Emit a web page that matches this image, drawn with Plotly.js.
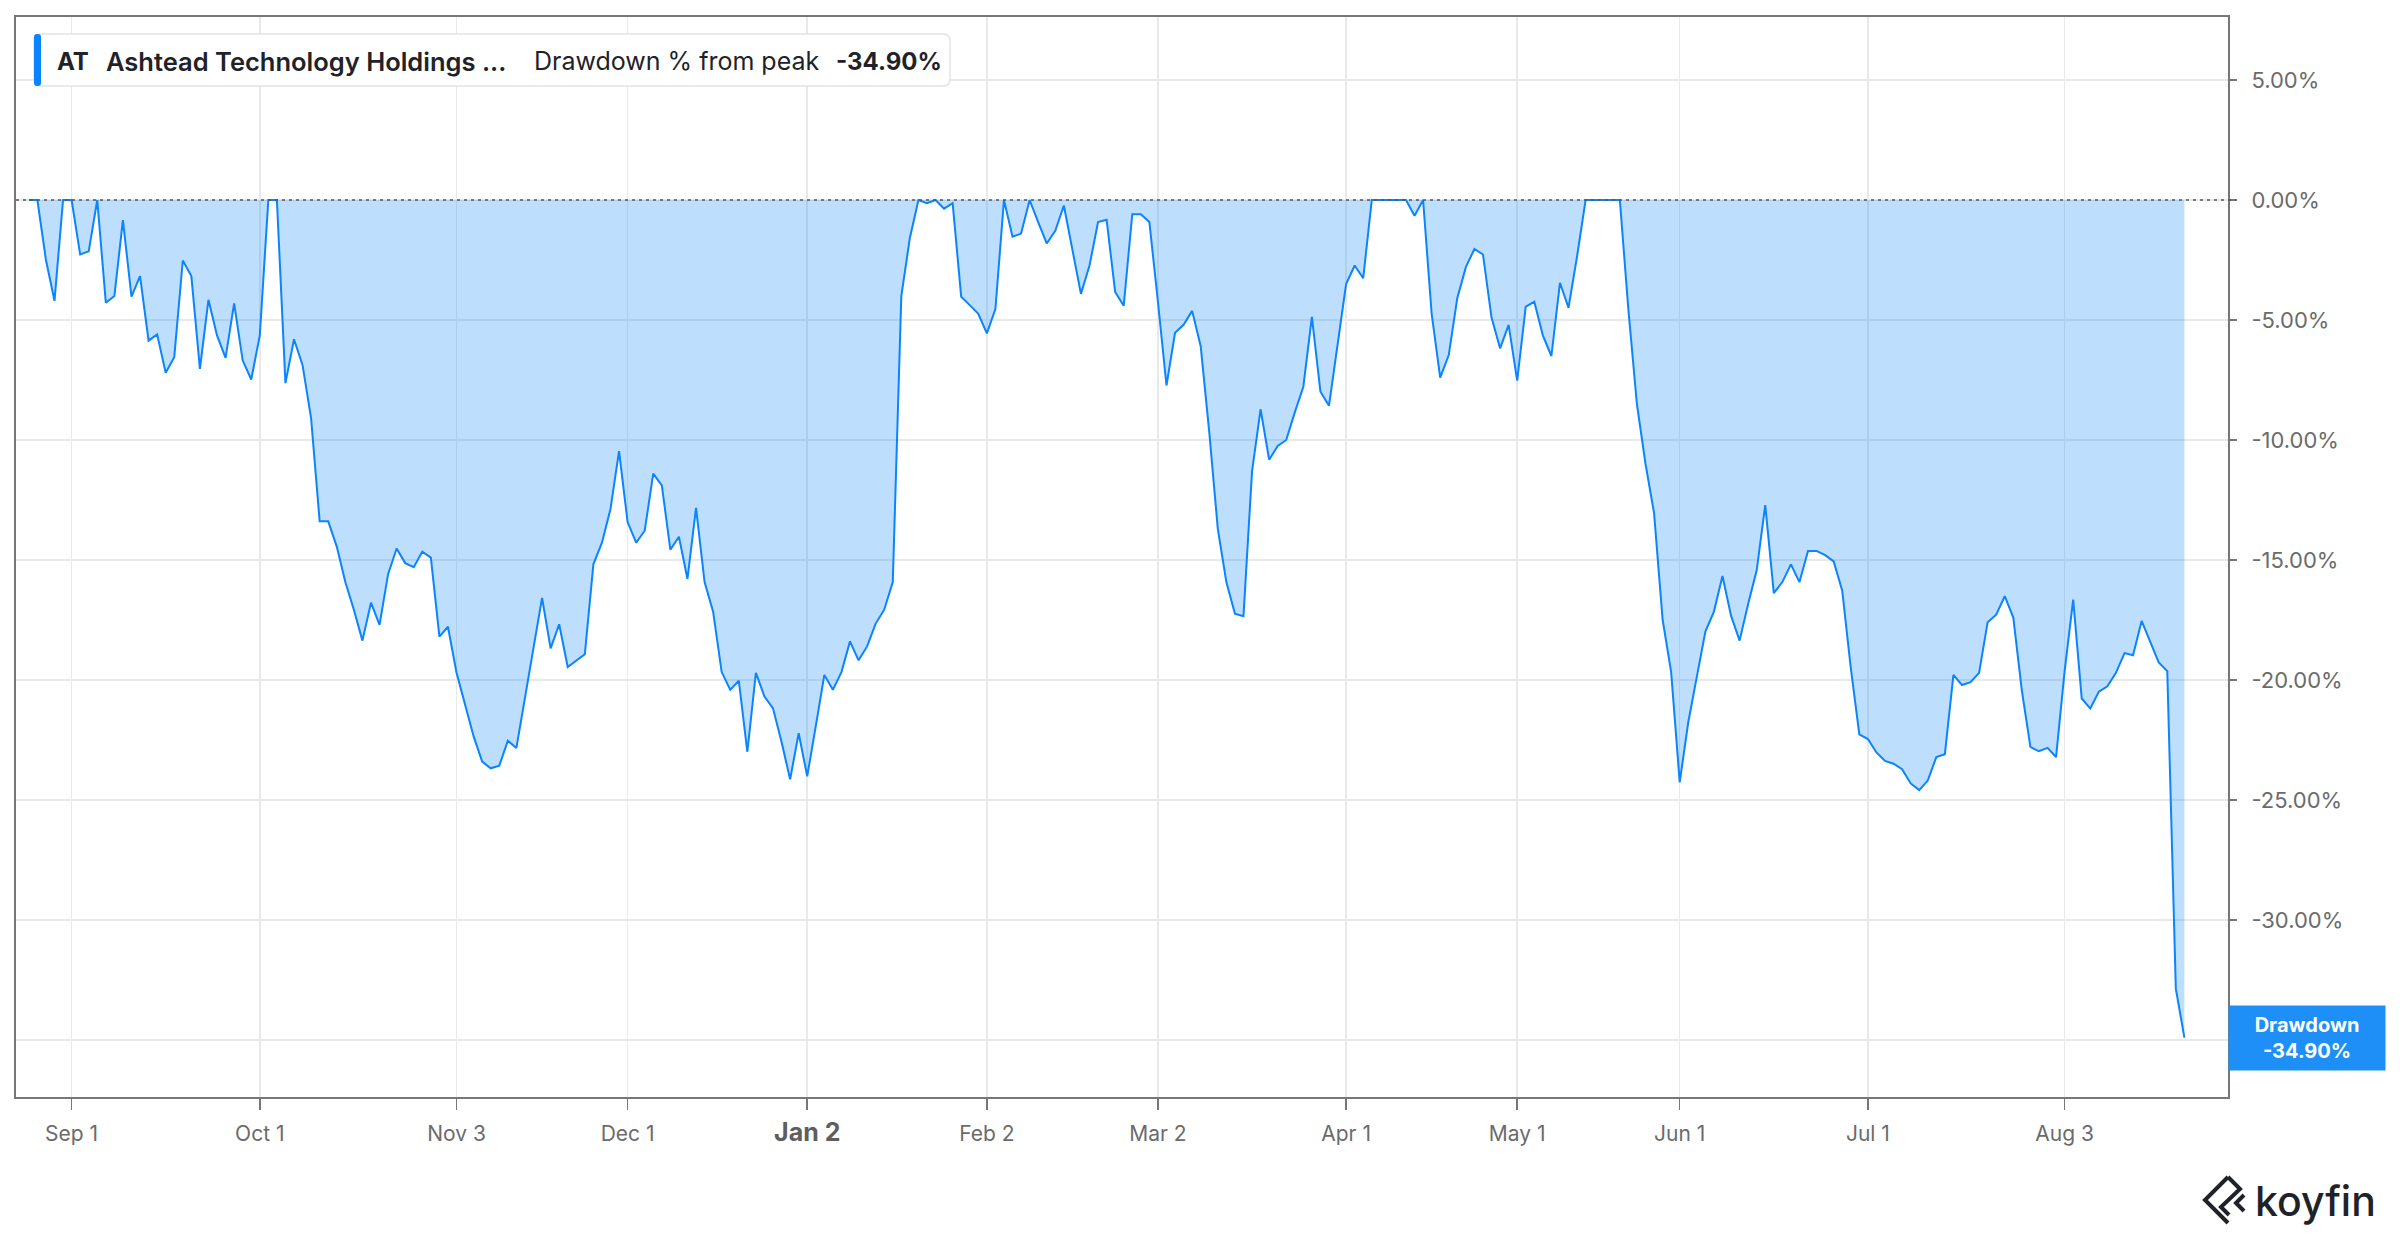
<!DOCTYPE html>
<html>
<head>
<meta charset="utf-8">
<script src="https://cdn.plot.ly/plotly-3.0.1.min.js"></script>
<style>
  body { margin: 0; background: #fff; }
  #chart { width: 2400px; height: 1240px; }
</style>
</head>
<body>
<div id="chart"></div>
<script>
// AT - drawdown % from peak, one year of LSE trading days

const startDate = '2025-08-22';
const endDate = '2026-08-21';
const holidays = ['2025-08-25', '2025-12-25', '2025-12-26', '2026-01-01',
                  '2026-04-03', '2026-04-06', '2026-05-04', '2026-05-25'];

const drawdown = [
  0, 0, -2.5, -4.2, 0,
  0, -2.27, -2.14, 0, -4.28, -4.0, -0.84, -4.03, -3.17, -5.86, -5.6, -7.2, -6.55, -2.52, -3.17,
  -7.04, -4.16, -5.64, -6.58, -4.31, -6.68, -7.48,
  -5.64, 0, 0, -7.63, -5.8, -6.88, -9.1, -13.39, -13.39, -14.44, -15.92, -17.07, -18.36, -16.78,
  -17.7, -15.59, -14.52, -15.13, -15.3, -14.65, -14.9, -18.19, -17.78,
  -19.7, -21.0, -22.35, -23.4, -23.68, -23.57, -22.53, -22.83, -20.69, -18.63, -16.58, -18.68,
  -17.68, -19.46, -19.21, -18.93, -15.18, -14.28, -12.88, -10.46,
  -13.42, -14.28, -13.78, -11.4, -11.89, -14.57, -14.03, -15.79, -12.83, -15.92, -17.15, -19.67,
  -20.41, -20.03, -22.99, -19.7, -20.69, -21.18, -22.58, -24.14, -22.22,
  -24.01, -21.92, -19.79, -20.41, -19.67, -18.39, -19.18, -18.6, -17.65, -17.07, -15.92, -4.0,
  -1.58, 0, -0.13, 0, -0.36, -0.13, -4.03, -4.38, -4.74,
  -5.56, -4.54, 0, -1.53, -1.4, 0, -0.92, -1.81, -1.28, -0.23, -2.07, -3.91, -2.73, -0.92,
  -0.82, -3.83, -4.41, -0.59, -0.59, -0.92,
  -4.24, -7.73, -5.53, -5.2, -4.62, -6.09, -9.67, -13.7, -15.92, -17.24, -17.34, -11.32, -8.72,
  -10.82, -10.25, -10.0, -8.85, -7.78, -4.87, -7.99, -8.57, -6.05,
  -3.5, -2.73, -3.26, 0, 0, 0, 0, 0, -0.66, 0, -4.74, -7.4, -6.46, -4.08, -2.8, -2.04, -2.27,
  -4.9, -6.18, -5.2,
  -7.53, -4.44, -4.24, -5.64, -6.5, -3.45, -4.49, -2.35, 0, 0, 0, 0, 0, -4.57, -8.52, -10.99,
  -13.04, -17.48, -19.67,
  -24.26, -21.76, -19.87, -17.98, -17.15, -15.67, -17.32, -18.36, -16.83, -15.43, -12.71, -16.38,
  -15.92, -15.18, -15.92, -14.62, -14.62, -14.8, -15.06, -16.28, -19.5, -22.27,
  -22.46, -23.02, -23.37, -23.49, -23.72, -24.31, -24.59, -24.19, -23.21, -23.09, -19.79, -20.21,
  -20.09, -19.7, -17.59, -17.28, -16.51, -17.4, -20.44, -22.79, -22.97, -22.83, -23.21,
  -19.63, -16.65, -20.77, -21.19, -20.49, -20.26, -19.7, -18.88, -18.97, -17.54, -18.38, -19.27,
  -19.63, -32.86, -34.9
];

const tickDates = ['2025-09-01', '2025-10-01', '2025-11-03', '2025-12-01', '2026-01-02', '2026-02-02',
                   '2026-03-02', '2026-04-01', '2026-05-01', '2026-06-01', '2026-07-01', '2026-08-03'];
const tickLabels = ['Sep 1', 'Oct 1', 'Nov 3', 'Dec 1', 'Jan 2', 'Feb 2',
                    'Mar 2', 'Apr 1', 'May 1', 'Jun 1', 'Jul 1', 'Aug 3'];
const yTicks = [5, 0, -5, -10, -15, -20, -25, -30, -35];

const ticker = 'AT';
const company = 'Ashtead Technology Holdings ...';
const metric = 'Drawdown % from peak';

// trading days, weekends and UK bank holidays dropped
function tradingDays(start, end, skip) {
    let out = [];
    let d = new Date(start + 'T00:00:00Z');
    let last = new Date(end + 'T00:00:00Z');
    while (d <= last) {
        let s = d.toISOString().slice(0, 10);
        let wd = d.getUTCDay();
        if (wd !== 0 && wd !== 6 && skip.indexOf(s) < 0) out.push(s);
        d.setUTCDate(d.getUTCDate() + 1);
    }
    return out;
}
const dates = tradingDays(startDate, endDate, holidays);

// plot box in page pixels, used to place the overlay bits
const L = 16, R = 2228, T = 17, B = 1097;
const px = x => (x - L) / (R - L);
const py = y => (B - y) / (B - T);

const last = drawdown[drawdown.length - 1];
const lastTxt = last.toFixed(2) + '%';
const ink = '#1f2329';
const blue = '#0a84ff';

const tickText = tickLabels.map(t => t === 'Jan 2'
    ? '<b><span style="font-size:25px;color:#5e5e5e">' + t + '</span></b>' : t);

// the -35% label sits under the value badge, so only its gridline shows
const yTickText = yTicks.map(v => v === -35 ? '' : v.toFixed(2) + '%');

var trace = {
    x: dates,
    y: drawdown,
    type: 'scatter',
    mode: 'lines',
    line: { color: blue, width: 2 },
    fill: 'tozeroy',
    fillcolor: 'rgba(30,140,250,0.29)',
    hoverinfo: 'skip'
};

function roundRect(x0, y0, x1, y1, r) {
    let a = px(x0), b = px(x1), c = py(y0), d = py(y1);
    let rx = r / (R - L), ry = r / (B - T);
    return `M ${a + rx},${c} L ${b - rx},${c} Q ${b},${c} ${b},${c - ry} L ${b},${d + ry} ` +
           `Q ${b},${d} ${b - rx},${d} L ${a + rx},${d} Q ${a},${d} ${a},${d + ry} ` +
           `L ${a},${c - ry} Q ${a},${c} ${a + rx},${c} Z`;
}
function polyline(pts) {
    return pts.map((p, i) => (i ? 'L ' : 'M ') + px(p[0]) + ',' + py(p[1])).join(' ');
}

var shapes = [
    // dotted zero line
    { type: 'line', xref: 'paper', yref: 'y', x0: 0, x1: px(2236), y0: 0, y1: 0,
      line: { color: '#555', width: 1.5, dash: '3px,4px' }, layer: 'above' },
    // legend card
    { type: 'path', xref: 'paper', yref: 'paper', path: roundRect(34, 34, 950, 86, 7),
      fillcolor: '#ffffff', line: { color: '#e3e3e3', width: 1.5 }, layer: 'above' },
    { type: 'path', xref: 'paper', yref: 'paper', path: roundRect(34, 34, 41, 86, 3),
      fillcolor: blue, line: { width: 0 }, layer: 'above' },
    // koyfin mark
    { type: 'path', xref: 'paper', yref: 'paper',
      path: polyline([[2228, 1177], [2205, 1200], [2228, 1223]]),
      line: { color: ink, width: 4 }, layer: 'above' },
    { type: 'path', xref: 'paper', yref: 'paper',
      path: polyline([[2228, 1177], [2240, 1189], [2221, 1207], [2229, 1215]]),
      line: { color: ink, width: 4 }, layer: 'above' },
    { type: 'path', xref: 'paper', yref: 'paper',
      path: polyline([[2244, 1195], [2236, 1203], [2244, 1211]]),
      line: { color: ink, width: 4 }, layer: 'above' }
];

var font = 'Inter, "Noto Sans", Arial, sans-serif';
function note(x, text, weight, size) {
    return { xref: 'paper', yref: 'paper', x: px(x), y: py(61), xanchor: 'left', yanchor: 'middle',
             text: text, showarrow: false,
             font: { family: font, size: size, color: ink, weight: weight } };
}

var annotations = [
    note(55, ticker, 700, 24),
    note(104, company, 600, 25.5),
    note(532, metric, 400, 25),
    note(834, lastTxt, 700, 24),
    { xref: 'paper', yref: 'y', x: px(2228), y: last, xanchor: 'left', yanchor: 'middle',
      text: 'Drawdown<br>' + lastTxt, showarrow: false, width: 150, height: 58, borderpad: 3,
      bgcolor: '#1e8ff6', align: 'center',
      font: { family: font, size: 20, color: '#ffffff', weight: 700 } },
    { xref: 'paper', yref: 'paper', x: px(2253), y: py(1201), xanchor: 'left', yanchor: 'middle',
      text: 'koyfin', showarrow: false,
      font: { family: font, size: 41, color: ink, weight: 500 } }
];

var layout = {
    width: 2400,
    height: 1240,
    margin: { l: L, r: 2400 - R, t: T, b: 1240 - B },
    paper_bgcolor: '#ffffff',
    plot_bgcolor: '#ffffff',
    showlegend: false,
    font: { family: font, color: '#6b6b6b' },
    xaxis: {
        type: 'category',
        range: [-1.5, 257.1],
        tickvals: tickDates,
        ticktext: tickText,
        tickfont: { size: 21, color: '#6b6b6b' },
        ticks: 'outside', ticklen: 11, tickwidth: 1.5, tickcolor: '#777',
        ticklabelstandoff: 6,
        showgrid: true, gridcolor: '#e9e9e9', gridwidth: 1.5,
        showline: true, linecolor: '#777', linewidth: 2, mirror: true,
        zeroline: false, fixedrange: true
    },
    yaxis: {
        side: 'right',
        range: [-37.375, 7.625],
        tickvals: yTicks,
        ticktext: yTickText,
        tickfont: { size: 22, color: '#6b6b6b' },
        ticks: 'outside', ticklen: 7, tickwidth: 1.5, tickcolor: '#777',
        ticklabelstandoff: 10,
        showgrid: true, gridcolor: '#e9e9e9', gridwidth: 1.5,
        showline: true, linecolor: '#777', linewidth: 2, mirror: true,
        zeroline: false, fixedrange: true
    },
    shapes: shapes,
    annotations: annotations
};

Plotly.newPlot('chart', [trace], layout, { displayModeBar: false, staticPlot: true });
</script>
</body>
</html>
